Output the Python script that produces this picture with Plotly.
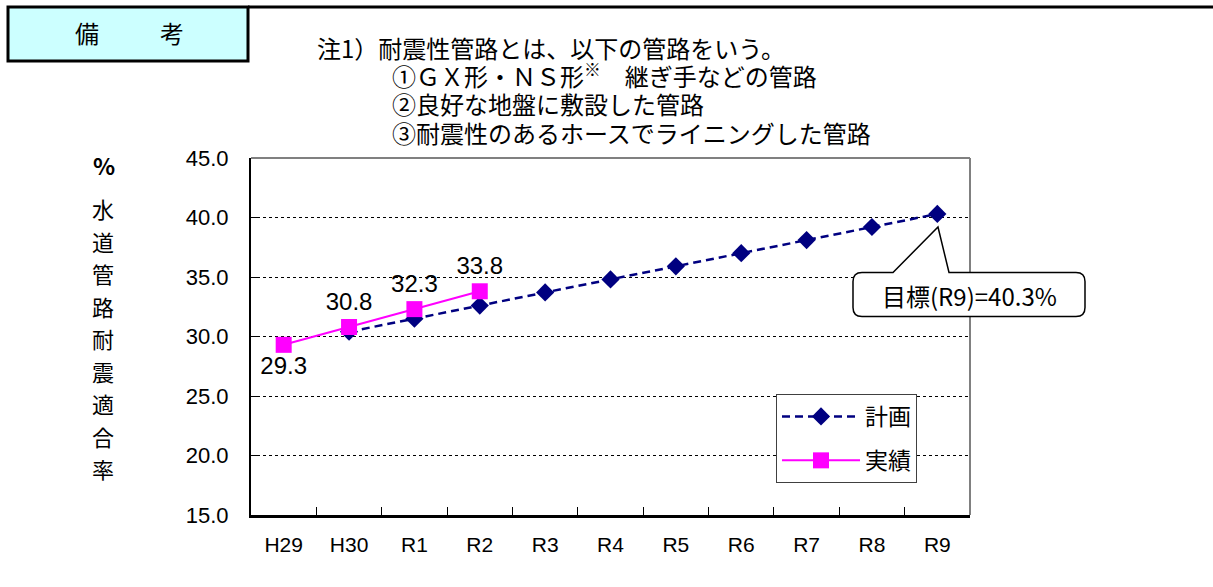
import plotly.graph_objects as go

# ---- data ----
categories = ["H29", "H30", "R1", "R2", "R3", "R4", "R5", "R6", "R7", "R8", "R9"]
plan_categories = ["H30", "R1", "R2", "R3", "R4", "R5", "R6", "R7", "R8", "R9"]
plan_values = [30.4, 31.5, 32.6, 33.7, 34.8, 35.9, 37.0, 38.1, 39.2, 40.3]
actual_categories = ["H29", "H30", "R1", "R2"]
actual_values = [29.3, 30.8, 32.3, 33.8]
actual_labels = ["29.3", "30.8", "32.3", "33.8"]
actual_label_pos = ["bottom center", "top center", "top center", "top center"]
y_tick_values = [15, 20, 25, 30, 35, 40, 45]
plan_name = "計画"
actual_name = "実績"
target_text = "目標(R9)=40.3%"
y_title_unit = "%"
y_title_text = "水道管路耐震適合率"
header_chars = ["備", "考"]
note_lines = [
    "注1）耐震性管路とは、以下の管路をいう。",
    "①ＧＸ形・ＮＳ形<sup>※</sup>　継ぎ手などの管路",
    "②良好な地盤に敷設した管路",
    "③耐震性のあるホースでライニングした管路",
]

# ---- layout geometry (pixels) ----
W, H = 1213, 587
PL, PR, PT, PB = 251, 970, 158, 515
FONT = "Noto Sans CJK JP, sans-serif"
NUMFONT = "Liberation Sans Narrow, Liberation Sans, Arial, sans-serif"


def px(x):
    return (x - PL) / (PR - PL)


def py(y):
    return (PB - y) / (PB - PT)


fig = go.Figure()

fig.add_trace(go.Scatter(
    x=plan_categories, y=plan_values, name=plan_name, mode="lines+markers",
    line=dict(color="#000080", width=2.5, dash="8px,5px"),
    marker=dict(symbol="diamond", size=14, color="#000080"),
    legendgroup="plan",
))
fig.add_trace(go.Scatter(
    x=actual_categories, y=actual_values, name=actual_name, mode="lines+markers+text",
    line=dict(color="#FF00FF", width=2),
    marker=dict(symbol="square", size=16, color="#FF00FF"),
    text=actual_labels, textposition=actual_label_pos,
    textfont=dict(family=NUMFONT, size=24, color="black"),
    legendgroup="actual",
))

shapes = []
# plot frame top & right (gray)
shapes.append(dict(type="line", xref="paper", yref="paper", x0=0, x1=1, y0=1, y1=1,
                   line=dict(color="#808080", width=2)))
shapes.append(dict(type="line", xref="paper", yref="paper", x0=1, x1=1, y0=0, y1=1,
                   line=dict(color="#808080", width=2)))
# header box
shapes.append(dict(type="rect", xref="paper", yref="paper",
                   x0=px(8), x1=px(248), y0=py(61), y1=py(7),
                   fillcolor="#CCFFFF", line=dict(color="black", width=3), layer="above"))
shapes.append(dict(type="line", xref="paper", yref="paper",
                   x0=px(248), x1=px(1213), y0=py(7), y1=py(7),
                   line=dict(color="black", width=3)))

# callout
L, R, T, B, r = 853, 1085, 272.5, 316.5, 9
tx1, tx2, tipx, tipy = 893, 949, 938, 227


def P(x, y):
    return f"{px(x):.5f},{py(y):.5f}"


path = (f"M{P(L + r, T)} L{P(tx1, T)} L{P(tipx, tipy)} L{P(tx2, T)} L{P(R - r, T)} "
        f"Q{P(R, T)} {P(R, T + r)} L{P(R, B - r)} Q{P(R, B)} {P(R - r, B)} "
        f"L{P(L + r, B)} Q{P(L, B)} {P(L, B - r)} L{P(L, T + r)} Q{P(L, T)} {P(L + r, T)} Z")
shapes.append(dict(type="path", xref="paper", yref="paper", path=path,
                   fillcolor="white", line=dict(color="black", width=1.5), layer="above"))

annotations = []


def ann(x, y, text, size, xanchor="center", yanchor="middle", family=FONT, align="center"):
    annotations.append(dict(xref="paper", yref="paper", x=px(x), y=py(y), text=text,
                            xanchor=xanchor, yanchor=yanchor, showarrow=False, align=align,
                            font=dict(family=family, size=size, color="black")))


ann((L + R) / 2, (T + B) / 2 + 1, target_text, 24)
for ch, cx in zip(header_chars, [87, 172]):
    ann(cx, 33, ch, 24)
for line, lx, ly in zip(note_lines, [315, 390, 390, 390], [47, 75, 103, 132]):
    ann(lx, ly, line, 24, xanchor="left", align="left")
ann(104, 165, "<b>" + y_title_unit + "</b>", 23)
for i, ch in enumerate(y_title_text):
    ann(103, 208 + 32.5 * i, ch, 22)

fig.update_layout(
    width=W, height=H,
    margin=dict(l=PL, r=W - PR, t=PT, b=H - PB, pad=0),
    paper_bgcolor="white", plot_bgcolor="white",
    font=dict(family=FONT, color="black"),
    shapes=shapes, annotations=annotations,
    showlegend=True,
    legend=dict(x=px(776), y=py(394), xanchor="left", yanchor="top",
                bgcolor="white", bordercolor="#404040", borderwidth=1,
                font=dict(family=FONT, size=23, color="black"),
                traceorder="grouped", tracegroupgap=11, itemwidth=78),
    xaxis=dict(type="category", categoryorder="array", categoryarray=categories,
               range=[-0.5, len(categories) - 0.5],
               showline=True, linecolor="black", linewidth=2.5,
               ticks="inside", ticklen=8, tickcolor="black", tickson="boundaries",
               showgrid=False, ticklabelstandoff=9,
               tickfont=dict(family=NUMFONT, size=21, color="black")),
    yaxis=dict(range=[15, 45], tickvals=y_tick_values, tickformat=".1f",
               showline=True, linecolor="black", linewidth=2,
               ticks="inside", ticklen=8, tickcolor="black",
               showgrid=True, gridcolor="black", gridwidth=1, griddash="dot",
               zeroline=False, ticklabelstandoff=16,
               tickfont=dict(family=NUMFONT, size=22, color="black")),
)

fig.write_html("out.html")
